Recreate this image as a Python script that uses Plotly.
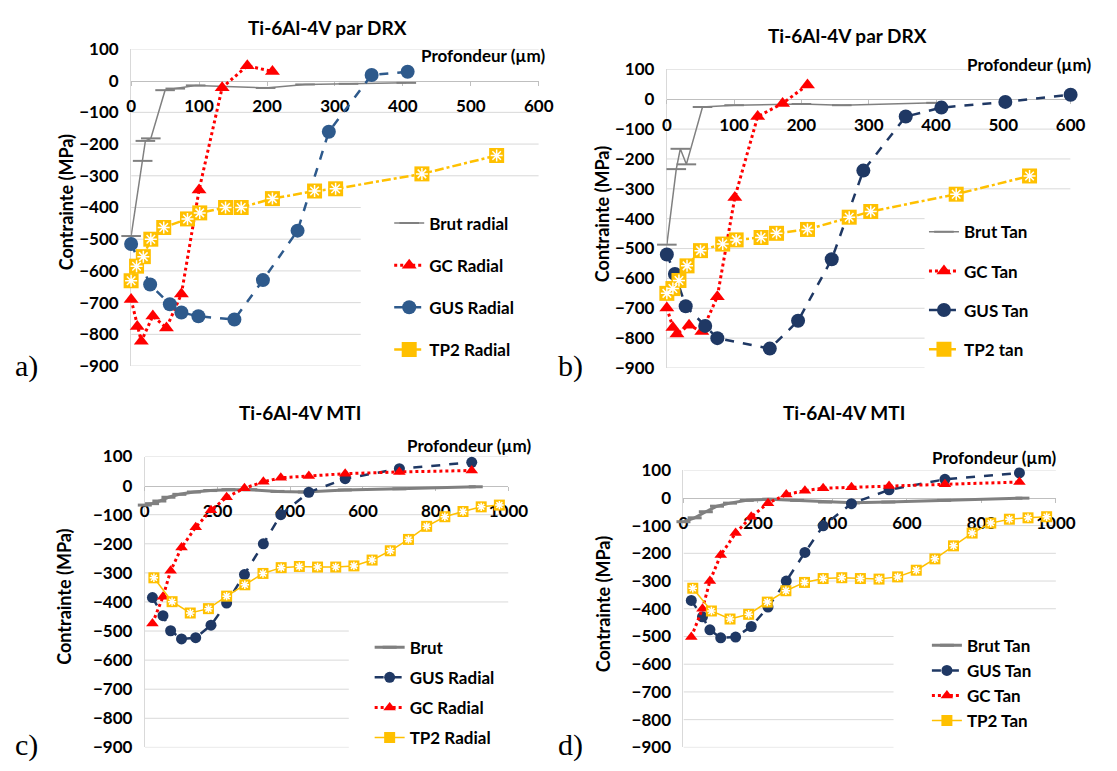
import plotly.graph_objects as go

W, H = 1117, 771
FONT = "Lato, 'Open Sans', sans-serif"

GRAY = "#808080"
RED = "#FF0000"
BLUE_A = "#2E5A8C"
NAVY = "#1F3864"
YELLOW = "#FFC000"

# ---- a) DRX radial ----
a_brut_x = [0, 17, 21, 29, 50, 65, 95, 198, 256, 320, 405]
a_brut_y = [-490, -253, -190, -182, -30, -25, -15, -23, -12, -10, -7]
a_gc_x = [0, 9, 15, 32, 52, 74, 100, 134, 171, 208]
a_gc_y = [-690, -775, -822, -742, -780, -673, -345, -22, 47, 29]
a_gus_x = [0, 28, 57, 74, 99, 152, 194, 245, 291, 354, 407]
a_gus_y = [-515, -643, -705, -731, -743, -753, -629, -473, -161, 18, 28]
a_tp2_x = [0, 8, 18, 29, 48, 83, 101, 139, 162, 208, 270, 301, 428, 538]
a_tp2_y = [-631, -585, -555, -500, -463, -436, -417, -400, -400, -372, -348, -341, -294, -236]

# ---- b) DRX tangentiel ----
b_brut_x = [0, 14, 20, 29, 53, 100, 200, 260, 400]
b_brut_y = [-487, -234, -166, -218, -26, -20, -16, -20, -12]
b_gc_x = [0, 9, 15, 33, 52, 75, 101, 135, 172, 209]
b_gc_y = [-699, -764, -786, -757, -778, -661, -329, -58, -14, 48]
b_gus_x = [0, 12, 28, 57, 75, 153, 195, 245, 292, 355, 408, 503, 600]
b_gus_y = [-520, -585, -693, -759, -800, -835, -742, -536, -239, -58, -28, -9, 15]
b_tp2_x = [0, 9, 18, 30, 50, 83, 103, 140, 163, 209, 271, 303, 430, 539]
b_tp2_y = [-650, -634, -607, -558, -507, -485, -471, -463, -449, -436, -395, -376, -318, -257]

# ---- c) MTI radial ----
c_brut_x = [0, 20, 40, 65, 95, 135, 180, 230, 290, 365, 440, 550, 700, 910]
c_brut_y = [-67, -62, -53, -40, -30, -22, -17, -14, -14, -20, -22, -15, -11, -4]
c_pts_x = [21, 50, 71, 101, 140, 182, 225, 274, 326, 374, 451, 551, 700, 899]
c_gus_y = [-385, -447, -499, -527, -523, -480, -404, -306, -200, -100, -23, 24, 58, 80]
c_gc_y = [-474, -382, -293, -213, -143, -85, -40, -9, 13, 27, 33, 41, 47, 52]
c_tp2_x = [25, 75, 125, 175, 225, 275, 325, 375, 425, 475, 525, 575, 625, 675, 725, 775, 825, 875, 925, 975]
c_tp2_y = [-317, -399, -438, -423, -380, -341, -302, -282, -278, -280, -280, -276, -256, -224, -185, -140, -107, -89, -73, -67]

# ---- d) MTI tangentiel ----
d_brut_x = [0, 30, 60, 90, 125, 170, 230, 305, 380, 455, 550, 700, 910]
d_brut_y = [-86, -72, -50, -30, -19, -9, -5, -9, -15, -18, -15, -9, -1]
d_pts_x = [21, 51, 71, 100, 140, 182, 227, 276, 326, 375, 451, 552, 702, 902]
d_gus_y = [-370, -429, -476, -505, -502, -464, -394, -300, -197, -101, -21, 29, 67, 90]
d_gc_y = [-502, -400, -300, -206, -127, -68, -19, 12, 26, 35, 38, 43, 49, 57]
d_tp2_x = c_tp2_x
d_tp2_y = [-326, -408, -437, -420, -376, -335, -305, -291, -288, -291, -293, -285, -261, -220, -173, -127, -91, -77, -72, -68]

y_ticks = list(range(100, -1000, -100))

# geometrie des panneaux en pixels (gauche, droite, haut, bas)
panels = [
    dict(n=1, box=(129, 546, 39, 365), xmax=600, cut=338, cut_from=-400,
         title="Ti-6Al-4V par DRX", title_xy=(330, 17), prof_xy=(555, 46),
         ylab_x=62, leg=(393, 200), gap=17, lab="a)", lab_xy=(8, 365), big=True),
    dict(n=2, box=(677, 1090, 60, 367), xmax=600, cut=383, cut_from=-400,
         title="Ti-6Al-4V par DRX", title_xy=(862, 25), prof_xy=(1114, 55),
         ylab_x=610, leg=(940, 209), gap=14, lab="b)", lab_xy=(564, 365), big=True),
    dict(n=3, box=(143, 515, 458, 757), xmax=1000, cut=561, cut_from=-500,
         title="Ti-6Al-4V MTI", title_xy=(302, 413), prof_xy=(541, 447),
         ylab_x=60, leg=(373, 636), gap=5, lab="c)", lab_xy=(8, 755), big=False),
    dict(n=4, box=(694, 1075, 472, 757), xmax=1000, cut=564, cut_from=-500,
         title="Ti-6Al-4V MTI", title_xy=(858, 413), prof_xy=(1078, 459),
         ylab_x=612, leg=(943, 634), gap=0, lab="d)", lab_xy=(564, 755), big=False),
]

series = {
    1: [("Brut radial", "brut", a_brut_x, a_brut_y), ("GC Radial", "gc", a_gc_x, a_gc_y),
        ("GUS Radial", "gus", a_gus_x, a_gus_y), ("TP2 Radial", "tp2", a_tp2_x, a_tp2_y)],
    2: [("Brut Tan", "brut", b_brut_x, b_brut_y), ("GC Tan", "gc", b_gc_x, b_gc_y),
        ("GUS Tan", "gus", b_gus_x, b_gus_y), ("TP2 tan", "tp2", b_tp2_x, b_tp2_y)],
    3: [("Brut", "brut", c_brut_x, c_brut_y), ("GUS Radial", "gus", c_pts_x, c_gus_y),
        ("GC Radial", "gc", c_pts_x, c_gc_y), ("TP2 Radial", "tp2", c_tp2_x, c_tp2_y)],
    4: [("Brut Tan", "brut", d_brut_x, d_brut_y), ("GUS Tan", "gus", d_pts_x, d_gus_y),
        ("GC Tan", "gc", d_pts_x, d_gc_y), ("TP2 Tan", "tp2", d_tp2_x, d_tp2_y)],
}


def fx(p):
    return p / W


def fy(p):
    return 1 - p / H


fig = go.Figure()

for p in panels:
    n = p["n"]
    sfx = "" if n == 1 else str(n)
    xa, ya = "x" + sfx, "y" + sfx
    leg = "legend" + sfx
    big = p["big"]
    for name, kind, xs, ys in series[n]:
        grp = f"{n}-{kind}"
        common = dict(x=xs, y=ys, xaxis=xa, yaxis=ya, name=name, legend=leg,
                      legendgroup=grp, cliponaxis=False, mode="lines+markers")
        if kind == "brut":
            fig.add_trace(go.Scatter(
                **common,
                line=dict(color=GRAY, width=1.5 if big else 3),
                marker=dict(symbol="line-ew", size=14 if big else 10,
                            line=dict(color=GRAY, width=2 if big else 3))))
        elif kind == "gc":
            fig.add_trace(go.Scatter(
                **common,
                line=dict(color=RED, width=3, dash="dot"),
                marker=dict(symbol="triangle-up", size=13 if big else 11, color=RED)))
        elif kind == "gus":
            col = BLUE_A if n == 1 else NAVY
            fig.add_trace(go.Scatter(
                **common,
                line=dict(color=col, width=2.5, dash="dash"),
                marker=dict(symbol="circle", size=14 if big else 11, color=col)))
        else:
            fig.add_trace(go.Scatter(
                **common,
                line=dict(color=YELLOW, width=2.5 if big else 1.5,
                          dash="dashdot" if big else "solid"),
                marker=dict(symbol="square", size=15 if big else 11, color=YELLOW)))
            fig.add_trace(go.Scatter(
                x=xs, y=ys, xaxis=xa, yaxis=ya, mode="markers", showlegend=False,
                cliponaxis=False, hoverinfo="skip",
                marker=dict(symbol="asterisk-open", size=10 if big else 7,
                            color="white", line=dict(color="white", width=1.5))))

    l, r, t, b = p["box"]
    ydom = [fy(b), fy(t)]
    zero_pos = ydom[0] + (0 - (-900)) / 1000 * (ydom[1] - ydom[0])
    fig.update_layout({
        "xaxis" + sfx: dict(
            domain=[fx(l), fx(r)], range=[0, p["xmax"]], dtick=p["xmax"] // (6 if big else 5),
            anchor="free", position=zero_pos, showgrid=False, zeroline=False,
            showline=True, linecolor="#BFBFBF", linewidth=1.2,
            ticks="outside", ticklen=4, tickcolor="#BFBFBF", ticklabelstandoff=6,
            tickfont=dict(family=FONT, size=17, color="black", weight="bold"),
            layer="below traces", fixedrange=True),
        "yaxis" + sfx: dict(
            domain=ydom, range=[-900, 100], tickvals=y_ticks, anchor=xa,
            showgrid=False, zeroline=False, showline=True, linecolor="#D9D9D9",
            ticks="", ticklabelstandoff=8,
            tickfont=dict(family=FONT, size=17, color="black", weight="bold"),
            layer="below traces", fixedrange=True),
        leg: dict(
            x=fx(p["leg"][0]), y=fy(p["leg"][1]), xanchor="left", yanchor="top",
            bgcolor="rgba(0,0,0,0)", traceorder="grouped", tracegroupgap=p["gap"],
            itemwidth=30, font=dict(family=FONT, size=17, color="black", weight="bold")),
    })

    # lignes de grille horizontales (plus courtes sous la legende)
    for v in y_ticks:
        if v == 0:
            continue
        x1 = p["cut"] if v <= p["cut_from"] else p["xmax"]
        fig.add_shape(type="line", xref=xa, yref=ya, x0=0, x1=x1, y0=v, y1=v,
                      line=dict(color="#D9D9D9", width=1), layer="below")

    fig.add_annotation(text=p["title"], xref="paper", yref="paper",
                       x=fx(p["title_xy"][0]), y=fy(p["title_xy"][1]),
                       showarrow=False, xanchor="center", yanchor="middle",
                       font=dict(family=FONT, size=19, color="black", weight="bold"))
    fig.add_annotation(text="Profondeur (µm)", xref="paper", yref="paper",
                       x=fx(p["prof_xy"][0]), y=fy(p["prof_xy"][1]),
                       showarrow=False, xanchor="right", yanchor="middle",
                       font=dict(family=FONT, size=17, color="black", weight="bold"))
    fig.add_annotation(text="Contrainte (MPa)", xref="paper", yref="paper",
                       x=fx(p["ylab_x"]), y=fy((t + b) / 2 - 5), textangle=-90,
                       showarrow=False, xanchor="center", yanchor="middle",
                       font=dict(family=FONT, size=18, color="black", weight="bold"))
    fig.add_annotation(text=p["lab"], xref="paper", yref="paper",
                       x=fx(p["lab_xy"][0]), y=fy(p["lab_xy"][1]),
                       showarrow=False, xanchor="left", yanchor="middle",
                       font=dict(family="'Liberation Serif', serif", size=30, color="black"))

fig.update_layout(
    width=W, height=H,
    margin=dict(l=0, r=0, t=0, b=0),
    paper_bgcolor="white", plot_bgcolor="white",
    hovermode=False,
)

pin = ("var gd=document.getElementById('{plot_id}');"
       "gd.style.position='fixed';gd.style.top='0';gd.style.left='0';"
       "document.body.style.margin='0';"
       "document.documentElement.style.overflow='hidden';")
fig.write_html("out.html", config={"displayModeBar": False}, post_script=pin)
